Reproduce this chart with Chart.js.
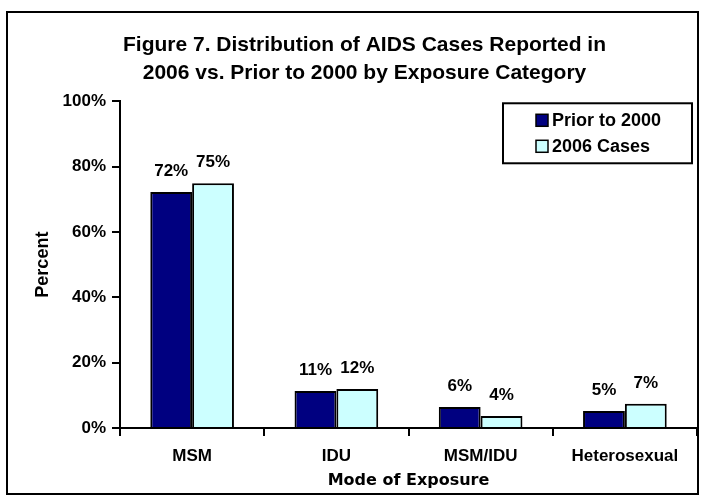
<!DOCTYPE html>
<html>
<head>
<meta charset="utf-8">
<script src="https://cdn.jsdelivr.net/npm/chart.js@4/dist/chart.umd.min.js"></script>
<style>
  html, body { margin: 0; padding: 0; background: #fff; }
  #wrap { position: relative; width: 705px; height: 500px; }
  #frame { position: absolute; left: 6px; top: 11px; width: 689px; height: 480px;
           border: 2px solid #000; pointer-events: none; }
</style>
</head>
<body>
<div id="wrap">
  <canvas id="chart" width="705" height="500"></canvas>
  <div id="frame"></div>
</div>
<script>
'use strict';

// categories and series
let categories = ['MSM', 'IDU', 'MSM/IDU', 'Heterosexual'];
let prior2000 = [72.2, 11.3, 6.4, 5.2];
let cases2006 = [74.9, 11.9, 3.7, 7.4];
let seriesNames = ['Prior to 2000', '2006 Cases'];
let yTicks = [0, 20, 40, 60, 80, 100];

let arialBold = "'Liberation Sans', Arial, sans-serif";

// value labels above each bar
let barLabels = {
  id: 'barLabels',
  afterDatasetsDraw(chart) {
    let ctx = chart.ctx;
    ctx.save();
    ctx.font = 'bold 17px ' + arialBold;
    ctx.fillStyle = '#000';
    ctx.textAlign = 'center';
    ctx.textBaseline = 'middle';
    chart.data.datasets.forEach((ds, i) => {
      chart.getDatasetMeta(i).data.forEach((bar, j) => {
        ctx.fillText(Math.round(ds.data[j]) + '%', bar.x, bar.y - 21);
      });
    });
    ctx.restore();
  }
};

// boxed legend in the top right of the plot
let boxLegend = {
  id: 'boxLegend',
  afterDraw(chart) {
    let ctx = chart.ctx;
    let area = chart.chartArea;
    let w = 189, h = 60;
    let x = area.right - 5 - w;
    let y = area.top + 2;
    ctx.save();
    ctx.fillStyle = '#fff';
    ctx.fillRect(x, y, w, h);
    ctx.lineWidth = 2;
    ctx.strokeStyle = '#000';
    ctx.strokeRect(x, y, w, h);
    ctx.font = 'bold 18px ' + arialBold;
    ctx.textBaseline = 'middle';
    chart.data.datasets.forEach((ds, i) => {
      let cy = y + 17 + i * 26;
      ctx.fillStyle = ds.backgroundColor;
      ctx.fillRect(x + 33, cy - 6, 12, 12);
      ctx.lineWidth = 1.5;
      ctx.strokeRect(x + 33, cy - 6, 12, 12);
      ctx.fillStyle = '#000';
      ctx.fillText(ds.label, x + 49, cy + 1);
    });
    ctx.restore();
  }
};

let data = {
  labels: categories,
  datasets: [{
    label: seriesNames[0],
    data: prior2000,
    backgroundColor: '#000080',
    borderColor: '#000',
    borderWidth: 2
  }, {
    label: seriesNames[1],
    data: cases2006,
    backgroundColor: '#CCFFFF',
    borderColor: '#000',
    borderWidth: 2
  }]
};

let config = {
  type: 'bar',
  data: data,
  plugins: [barLabels, boxLegend],
  options: {
    responsive: false,
    animation: false,
    events: [],
    categoryPercentage: 0.58,
    barPercentage: 1,
    layout: { padding: { left: 32, right: 8, top: 0, bottom: 10 } },
    plugins: {
      legend: { display: false },
      tooltip: { enabled: false },
      title: {
        display: true,
        text: ['Figure 7. Distribution of AIDS Cases Reported in',
               '2006 vs. Prior to 2000 by Exposure Category'],
        color: '#000',
        font: { family: arialBold, size: 21, weight: 'bold', lineHeight: 1.34 },
        padding: { top: 31, bottom: 14 }
      }
    },
    scales: {
      x: {
        grid: { display: true, drawOnChartArea: false, offset: true,
                color: '#000', lineWidth: 2, tickLength: 8 },
        border: { display: true, color: '#000', width: 2 },
        ticks: { color: '#000', padding: 10,
                 font: { family: arialBold, size: 17, weight: 'bold' } },
        title: {
          display: true,
          text: 'Mode of Exposure',
          color: '#000',
          font: { family: "'DejaVu Sans', Verdana, sans-serif", size: 16, weight: 'bold' },
          padding: { top: 0, bottom: 0 }
        },
        afterFit(scale) { scale.height = 62; }
      },
      y: {
        min: 0,
        max: 100,
        afterBuildTicks(scale) { scale.ticks = yTicks.map(v => ({ value: v })); },
        grid: { display: true, drawOnChartArea: false,
                color: '#000', lineWidth: 2, tickLength: 8 },
        border: { display: true, color: '#000', width: 2 },
        ticks: { color: '#000', padding: 6,
                 font: { family: arialBold, size: 17, weight: 'bold' },
                 callback: v => v + '%' },
        title: {
          display: true,
          text: 'Percent',
          color: '#000',
          font: { family: arialBold, size: 18, weight: 'bold' },
          padding: { top: 0, bottom: 10 }
        },
        afterFit(scale) { scale.width = 88; }
      }
    }
  }
};

new Chart(document.getElementById('chart'), config);
</script>
</body>
</html>
